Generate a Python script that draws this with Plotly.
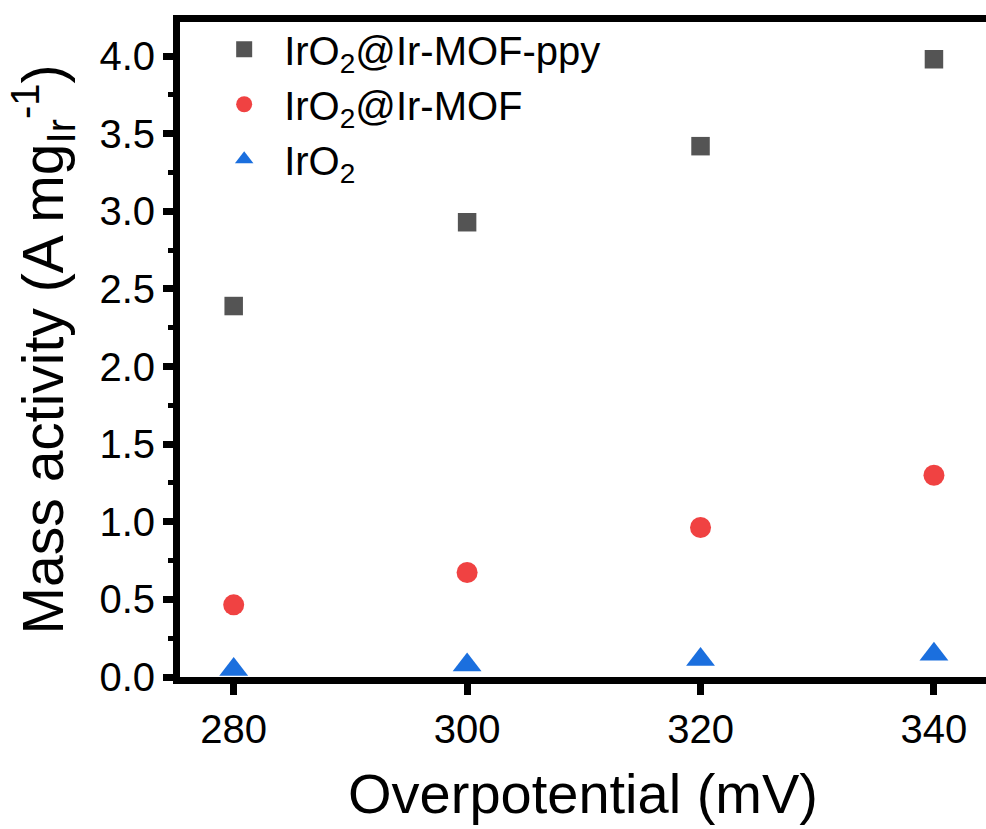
import plotly.graph_objects as go

# Overpotential (mV) and mass activity (A mg_Ir^-1) for each catalyst
overpotential = [280, 300, 320, 340]
ma_ppy = [2.39, 2.93, 3.42, 3.98]
ma_mof = [0.465, 0.673, 0.963, 1.30]
ma_iro2 = [0.048, 0.078, 0.112, 0.147]

names = ["IrO<sub>2</sub>@Ir-MOF-ppy", "IrO<sub>2</sub>@Ir-MOF", "IrO<sub>2</sub>"]
colors = ["#545454", "#F04242", "#1B6FDE"]
symbols = ["square", "circle", "triangle-up"]
sizes = [18.5, 21, 25]

FONT = "Liberation Sans, Arial, sans-serif"

fig = go.Figure()
for name, vals, c, s, sz in zip(names, [ma_ppy, ma_mof, ma_iro2], colors, symbols, sizes):
    fig.add_trace(go.Scatter(
        x=overpotential, y=vals, mode="markers", name=name,
        marker=dict(symbol=s, size=sz, color=c, line=dict(width=0)),
    ))

fig.update_layout(
    width=986, height=829,
    margin=dict(l=180, r=0, t=22, b=152),
    paper_bgcolor="white", plot_bgcolor="white",
    font=dict(family=FONT, size=40, color="black"),
    showlegend=True,
    legend=dict(
        x=0.03, y=1.008, xanchor="left", yanchor="top",
        bgcolor="rgba(0,0,0,0)", font=dict(size=40, family=FONT),
        itemsizing="trace", itemwidth=70, tracegroupgap=0,
    ),
)

fig.update_xaxes(
    range=[275.4, 344.46], tickvals=overpotential,
    showline=True, linewidth=7, linecolor="black", mirror=True,
    ticks="outside", ticklen=11, tickwidth=7, tickcolor="black",
    showgrid=False, zeroline=False,
    tickfont=dict(size=40, family=FONT),
    title=dict(text="Overpotential (mV)", font=dict(size=56, family=FONT), standoff=26),
)
fig.update_yaxes(
    range=[0, 4.22], tick0=0, dtick=0.5, tickformat=".1f",
    showline=True, linewidth=7, linecolor="black", mirror=False,
    ticks="outside", ticklen=10, tickwidth=7, tickcolor="black",
    minor=dict(ticks="outside", ticklen=5, tickwidth=5, dtick=0.25, tick0=0, tickcolor="black"),
    showgrid=False, zeroline=False,
    tickfont=dict(size=40, family=FONT),
    title=dict(text="Mass activity (A mg<sub>Ir</sub><sup>-1</sup>)", font=dict(size=57, family=FONT), standoff=20),
)

fig.write_html("out.html")
